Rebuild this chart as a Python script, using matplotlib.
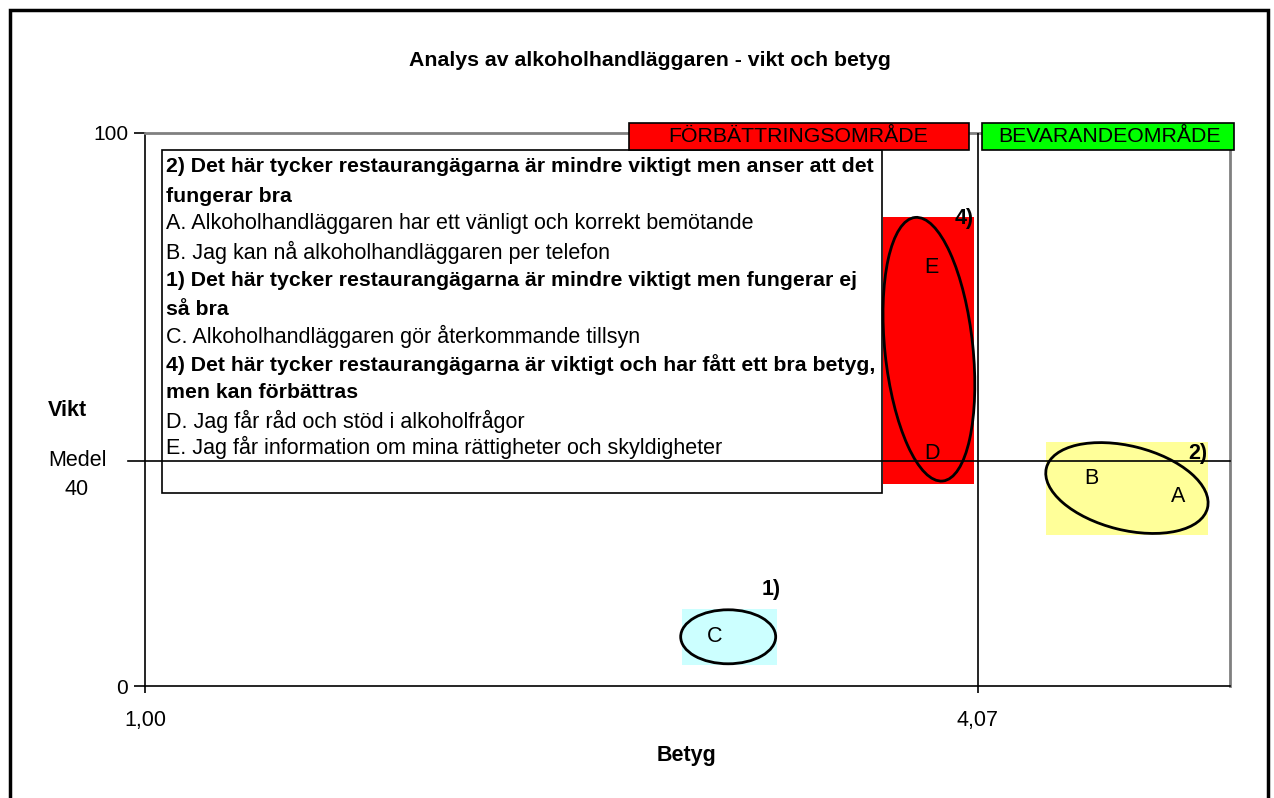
import matplotlib

matplotlib.use("Agg")

import matplotlib.pyplot as plt
from matplotlib.patches import Rectangle, Ellipse
from matplotlib.transforms import ScaledTranslation

plt.rcParams["font.family"] = ["Liberation Sans", "DejaVu Sans"]

# data
labels = ["A", "B", "C", "D", "E"]
betyg = [4.81, 4.49, 3.10, 3.90, 3.90]
vikt = [34.2, 37.6, 9.0, 42.1, 75.6]

medel_vikt = 40.7
medel_betyg = 4.07

# groups: label, label pos, box (x0, x1, y0, y1), ellipse centre, box colour
group_names = ["4)", "2)", "1)"]
group_label_x = [4.02, 4.88, 3.31]
group_label_y = [84.6, 42.0, 17.4]
group_box_x = [(3.72, 4.055), (4.32, 4.92), (2.98, 3.33)]
group_box_y = [(36.5, 84.8), (27.3, 44.1), (3.8, 13.9)]
group_centre = [(3.89, 60.9), (4.62, 35.8), (3.15, 8.9)]
group_colors = ["#ff0000", "#ffff99", "#ccffff"]
# ellipse size in inches and tilt
ell_w = [0.88, 1.66, 0.95]
ell_h = [2.65, 0.84, 0.54]
ell_angle = [6, -14, 0]

legend_lines = [
    ("2) Det här tycker restaurangägarna är mindre viktigt men anser att det", True),
    ("fungerar bra", True),
    ("A. Alkoholhandläggaren har ett vänligt och korrekt bemötande", False),
    ("B. Jag kan nå alkoholhandläggaren per telefon", False),
    ("1) Det här tycker restaurangägarna är mindre viktigt men fungerar ej", True),
    ("så bra", True),
    ("C. Alkoholhandläggaren gör återkommande tillsyn", False),
    ("4) Det här tycker restaurangägarna är viktigt och har fått ett bra betyg,", True),
    ("men kan förbättras", True),
    ("D. Jag får råd och stöd i alkoholfrågor", False),
    ("E. Jag får information om mina rättigheter och skyldigheter", False),
]

FS = 15.5
W, H = 1274, 798
fig = plt.figure(figsize=(W / 100, H / 100), dpi=100)


def fx(px):
    return px / W


def fy(py):
    return 1 - py / H


ax = fig.add_axes([fx(145), fy(686), fx(1230) - fx(145), fy(133) - fy(686)])
ax.set_xlim(1, 5)
ax.set_ylim(0, 100)

for s in ["top", "right"]:
    ax.spines[s].set_color("#808080")
    ax.spines[s].set_linewidth(2)
for s in ["left", "bottom"]:
    ax.spines[s].set_color("black")
    ax.spines[s].set_linewidth(1.2)

ax.set_xticks([1.00, medel_betyg])
ax.set_xticklabels(["1,00", "4,07"])
ax.set_yticks([0, 100])
ax.tick_params(axis="x", length=5, width=1.2, pad=12, labelsize=FS)
ax.tick_params(axis="y", length=8, width=1.2, pad=4, labelsize=15)

# group boxes
for (x0, x1), (y0, y1), c in zip(group_box_x, group_box_y, group_colors):
    ax.add_patch(Rectangle((x0, y0), x1 - x0, y1 - y0, facecolor=c,
                           edgecolor="none", zorder=1))

# legend text box (drawn inside the axes so the medel line can go over it)
ax.add_patch(Rectangle((fx(162), fy(493)), fx(882) - fx(162),
                       fy(150) - fy(493), transform=fig.transFigure,
                       facecolor="white", edgecolor="black", lw=1.2,
                       clip_on=False, zorder=2))
line_y = [167, 196, 224, 252, 281, 309, 336, 365, 393, 421, 447]
for (txt, bold), py in zip(legend_lines, line_y):
    ax.text(fx(166), fy(py), txt, ha="left", va="center",
            fontsize=15.3 if bold else FS,
            fontweight="bold" if bold else "normal", transform=fig.transFigure,
            clip_on=False, zorder=2.5)

# medel lines
ax.plot([-17 / 1085, 1], [medel_vikt, medel_vikt], color="black", lw=1.2,
        transform=ax.get_yaxis_transform(), clip_on=False, zorder=3)
ax.axvline(medel_betyg, color="black", lw=1.2, zorder=3)

# ellipses
for (cx, cy), w, h, a in zip(group_centre, ell_w, ell_h, ell_angle):
    tr = fig.dpi_scale_trans + ScaledTranslation(cx, cy, ax.transData)
    ax.add_patch(Ellipse((0, 0), w, h, angle=a, transform=tr, facecolor="none",
                         edgecolor="black", lw=2, zorder=4))

# point labels
for lab, x, y in zip(labels, betyg, vikt):
    ax.text(x, y, lab, ha="center", va="center", fontsize=FS, zorder=5)

for name, x, y in zip(group_names, group_label_x, group_label_y):
    ax.text(x, y, name, ha="center", va="center", fontsize=FS,
            fontweight="bold", zorder=5)

# header boxes
fig.patches.append(Rectangle((fx(629), fy(150)), fx(969) - fx(629),
                             fy(123) - fy(150), transform=fig.transFigure,
                             facecolor="#ff0000", edgecolor="black", lw=1.2,
                             zorder=6))
fig.patches.append(Rectangle((fx(982), fy(150)), fx(1234) - fx(982),
                             fy(123) - fy(150), transform=fig.transFigure,
                             facecolor="#00ff00", edgecolor="black", lw=1.2,
                             zorder=6))
fig.text(fx(798), fy(137), "FÖRBÄTTRINGSOMRÅDE", ha="center", va="center",
         fontsize=15.3, zorder=7)
fig.text(fx(1109), fy(137), "BEVARANDEOMRÅDE", ha="center", va="center",
         fontsize=15.3, zorder=7)

# titles
fig.text(fx(650), fy(60), "Analys av alkoholhandläggaren - vikt och betyg",
         ha="center", va="center", fontsize=15.3, fontweight="bold")
fig.text(fx(687), fy(755), "Betyg", ha="center", va="center", fontsize=FS,
         fontweight="bold")
fig.text(fx(67), fy(411), "Vikt", ha="center", va="center", fontsize=FS,
         fontweight="bold")
fig.text(fx(77), fy(475), "Medel\n40", ha="center", va="center", fontsize=FS,
         linespacing=1.45)

# outer frame
fig.patches.append(Rectangle((fx(10), -0.05), fx(1268) - fx(10), fy(10) + 0.05,
                             transform=fig.transFigure, facecolor="none",
                             edgecolor="black", lw=2.5))

fig.savefig("out.png", dpi=100)
plt.close(fig)
